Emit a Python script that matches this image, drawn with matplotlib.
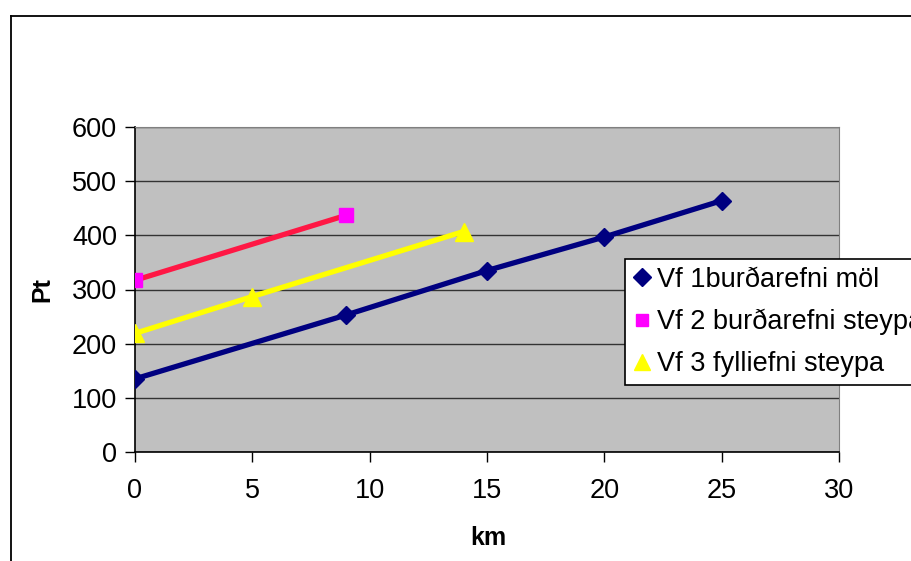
import matplotlib
matplotlib.use("Agg")
import matplotlib.pyplot as plt
from matplotlib.lines import Line2D

plt.rcParams['font.family'] = ['Liberation Sans', 'DejaVu Sans']

# Series data
km_1 = [0, 9, 15, 20, 25]
pt_1 = [135, 253, 335, 397, 464]
km_2 = [0, 9]
pt_2 = [317, 437]
km_3 = [0, 5, 14]
pt_3 = [219, 287, 407]

labels = ["Vf 1burðarefni möl", "Vf 2 burðarefni steypa", "Vf 3 fylliefni steypa"]
x_ticks = [0, 5, 10, 15, 20, 25, 30]
y_ticks = [0, 100, 200, 300, 400, 500, 600]

W, H = 912, 561
fig = plt.figure(figsize=(W / 100, H / 100), dpi=100)
ax = fig.add_axes([135 / W, 1 - 452 / H, (839 - 135) / W, (452 - 127) / H])
ax.set_facecolor('#C0C0C0')

# Outer chart border
fig.add_artist(Line2D([11 / W, 11 / W], [0, 1 - 16 / H], color='black', lw=1.3, transform=fig.transFigure))
fig.add_artist(Line2D([11 / W, 1], [1 - 16 / H, 1 - 16 / H], color='black', lw=1.3, transform=fig.transFigure))

ax.plot(km_1, pt_1, color='#000080', lw=3.8, marker='D', ms=9, mfc='#000080', mec='#000080', zorder=3)
ax.plot(km_2, pt_2, color='#FF1744', lw=3.8, marker='s', ms=9.5, mfc='#FF00FF', mec='#FF00FF', zorder=3)
ax.plot(km_3, pt_3, color='#FFFF00', lw=3.8, marker='^', ms=13, mfc='#FFFF00', mec='#FFFF00', zorder=3)

ax.set_xlim(0, 30)
ax.set_ylim(0, 600)
ax.set_xticks(x_ticks)
ax.set_yticks(y_ticks)
ax.tick_params(axis='both', labelsize=19.5, length=7, width=1, direction='out', colors='black')
ax.tick_params(axis='x', pad=12)
ax.tick_params(axis='y', pad=6)
ax.yaxis.grid(True, color='#333333', lw=1)
ax.set_axisbelow(True)
for side in ['left', 'bottom']:
    ax.spines[side].set_color('black')
    ax.spines[side].set_linewidth(1.2)
ax.spines['right'].set_color('#808080')
ax.spines['top'].set_color('#808080')

ax.set_xlabel('km', fontsize=18, fontweight='bold')
ax.set_ylabel('Pt', fontsize=18, fontweight='bold')
ax.yaxis.set_label_coords(-(135 - 54) / (839 - 135), (452 - 290) / (452 - 127))
ax.xaxis.set_label_coords((488 - 135) / (839 - 135), -(526 - 452) / (452 - 127))

handles = [
    Line2D([], [], ls='none', marker='D', ms=9, color='#000080'),
    Line2D([], [], ls='none', marker='s', ms=9, color='#FF00FF'),
    Line2D([], [], ls='none', marker='^', ms=12, color='#FFFF00'),
]
leg = fig.legend(handles, labels, loc='upper left', bbox_to_anchor=(625 / W, 1 - 259 / H),
                 fontsize=19.5, frameon=True, fancybox=False, framealpha=1, edgecolor='black',
                 handlelength=0.7, handletextpad=0.2, labelspacing=0.6, borderpad=0.28,
                 borderaxespad=0)
leg.get_frame().set_linewidth(1.2)

fig.savefig('out.png', dpi=100)
